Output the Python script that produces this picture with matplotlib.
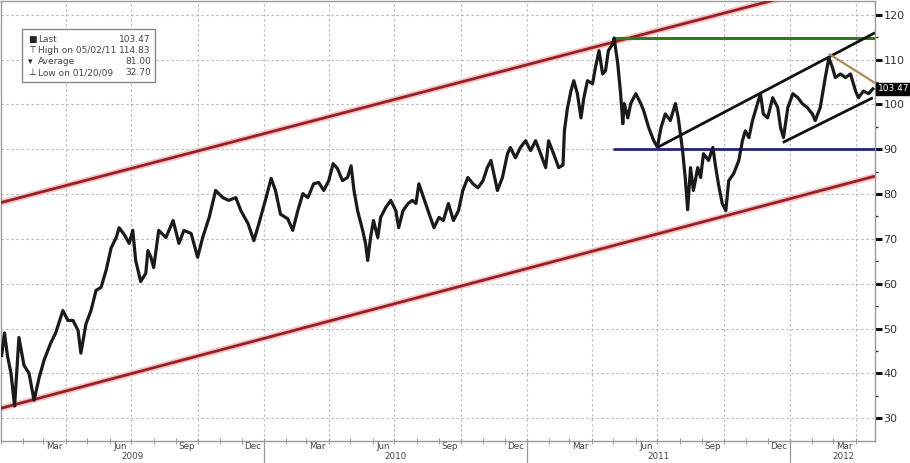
import matplotlib
matplotlib.use('Agg')
import matplotlib.pyplot as plt
import matplotlib.transforms as mtransforms
import pandas as pd

# price series (roughly weekly, with the swing highs/lows)
dates = [
    '2009-01-02', '2009-01-06', '2009-01-10', '2009-01-15', '2009-01-20', '2009-01-26',
    '2009-02-02', '2009-02-09', '2009-02-16', '2009-02-23', '2009-03-02', '2009-03-11',
    '2009-03-18', '2009-03-28', '2009-04-04', '2009-04-11', '2009-04-18', '2009-04-22',
    '2009-04-29', '2009-05-06', '2009-05-13', '2009-05-20', '2009-05-27', '2009-06-03',
    '2009-06-10', '2009-06-14', '2009-06-21', '2009-06-28', '2009-07-03', '2009-07-07',
    '2009-07-14', '2009-07-21', '2009-07-24', '2009-07-28', '2009-08-01', '2009-08-08',
    '2009-08-18', '2009-08-28', '2009-09-05', '2009-09-12', '2009-09-22', '2009-10-01',
    '2009-10-08', '2009-10-17', '2009-10-26', '2009-11-05', '2009-11-13', '2009-11-23',
    '2009-11-30', '2009-12-10', '2009-12-18', '2009-12-25',
    '2010-01-04', '2010-01-11', '2010-01-17', '2010-01-24', '2010-02-03', '2010-02-10',
    '2010-02-17', '2010-02-24', '2010-03-03', '2010-03-11', '2010-03-18', '2010-03-25',
    '2010-04-01', '2010-04-07', '2010-04-13', '2010-04-20', '2010-04-27', '2010-05-02',
    '2010-05-06', '2010-05-11', '2010-05-18', '2010-05-22', '2010-05-25', '2010-05-29',
    '2010-06-02', '2010-06-08', '2010-06-12', '2010-06-19', '2010-06-26', '2010-07-03',
    '2010-07-07', '2010-07-13', '2010-07-20', '2010-07-26', '2010-07-31', '2010-08-04',
    '2010-08-11', '2010-08-18', '2010-08-25', '2010-09-01', '2010-09-07', '2010-09-14',
    '2010-09-21', '2010-09-28', '2010-10-04', '2010-10-11', '2010-10-18', '2010-10-25',
    '2010-11-01', '2010-11-07', '2010-11-12', '2010-11-16', '2010-11-21', '2010-11-28',
    '2010-12-05', '2010-12-09', '2010-12-16', '2010-12-23', '2010-12-30',
    '2011-01-06', '2011-01-13', '2011-01-20', '2011-01-27', '2011-01-31', '2011-02-07',
    '2011-02-14', '2011-02-20', '2011-02-22', '2011-02-26', '2011-03-03', '2011-03-07',
    '2011-03-12', '2011-03-17', '2011-03-21', '2011-03-26', '2011-04-02', '2011-04-06',
    '2011-04-11', '2011-04-16', '2011-04-20', '2011-04-24', '2011-04-30', '2011-05-02',
    '2011-05-07', '2011-05-11', '2011-05-14', '2011-05-16', '2011-05-21', '2011-05-25',
    '2011-06-01', '2011-06-08', '2011-06-12', '2011-06-19', '2011-06-26', '2011-07-01',
    '2011-07-06', '2011-07-12', '2011-07-19', '2011-07-26', '2011-07-30', '2011-08-05',
    '2011-08-09', '2011-08-12', '2011-08-16', '2011-08-20', '2011-08-26', '2011-08-30',
    '2011-09-03', '2011-09-10', '2011-09-16', '2011-09-20', '2011-09-24', '2011-09-29',
    '2011-10-04', '2011-10-08', '2011-10-15', '2011-10-22', '2011-10-27', '2011-10-31',
    '2011-11-05', '2011-11-10', '2011-11-14', '2011-11-21', '2011-11-25', '2011-12-01',
    '2011-12-08', '2011-12-15', '2011-12-19', '2011-12-23', '2011-12-29',
    '2012-01-05', '2012-01-12', '2012-01-18', '2012-01-25', '2012-02-01', '2012-02-05',
    '2012-02-12', '2012-02-19', '2012-02-24', '2012-02-29', '2012-03-04', '2012-03-11',
    '2012-03-18', '2012-03-25', '2012-04-01', '2012-04-05', '2012-04-12', '2012-04-19',
    '2012-04-25',
]
prices = [
    44, 49, 44, 40, 32.7, 48,
    41.8, 40, 34, 39, 43, 46.7,
    49, 54, 51.8, 51.8, 49.6, 44.5,
    51, 54, 58.5, 59.2, 63, 68,
    70.3, 72.5, 71, 69, 71.9, 65.2,
    60.5, 62.3, 67.4, 66, 63.6, 71.9,
    70.3, 74.1, 69, 71.9, 71.2, 65.9,
    70.3, 74.8, 80.8, 79.2, 78.6, 79.2,
    76.3, 73.4, 69.6, 73.4,
    79.2, 83.5, 80.8, 75.5, 74.5, 71.9,
    76.3, 80.1, 79.2, 82.3, 82.6, 80.8,
    83, 86.8, 85.7, 83, 83.7, 86.3,
    80.8, 76.3, 71.9, 69, 65.2, 70.3,
    74.1, 70.3, 74.8, 77, 78.6, 76.3,
    72.5, 76.3, 77.9, 78.6, 77.9, 82.3,
    79, 75.7, 72.5, 74.8, 74.1, 77.9,
    74.1, 76.3, 80.8, 83.7, 82.3, 81.4,
    83, 85.9, 87.5, 84.6, 80.8, 83.7,
    89, 90.4, 88.1, 90.4, 91.9,
    89.7, 91.9, 89, 85.9, 91.9, 89,
    85.9, 86.5, 94.1, 99, 103, 105.3,
    102.4, 97, 101.5, 105.3, 104.6, 108.2,
    112, 106.8, 107.5, 112, 113.5, 114.83,
    109.1, 102.4, 95.7, 100.2, 97, 100.2,
    102.4, 100.2, 98.6, 94.8, 91.9, 90.5,
    94.8, 97.9, 96.4, 100.2, 97, 89.7,
    83, 76.5, 85.9, 80.8, 85.9, 83.7,
    89, 87.5, 90.4, 85.9, 82, 77.9,
    76.3, 83, 84.6, 87.5, 91.9, 94.1,
    92.6, 96.4, 98.6, 102.4, 97.9, 97,
    101.5, 99.3, 94.8, 92.6, 99.3,
    102.4, 101.5, 100.2, 99.3, 97.9, 96.4,
    99.3, 106, 110.4, 108.2, 106, 106.8,
    106, 106.8, 103, 101.5, 103, 102.4,
    103.47,
]

# hand-drawn trend lines (start/end date, start/end value)
channel_top = (['2009-01-01', '2012-04-28'], [78.1, 129.2])
channel_bottom = (['2009-01-01', '2012-04-28'], [32.2, 84.0])
high_line = (['2011-05-02', '2012-04-28'], [114.83, 114.83])
support_line = (['2011-04-30', '2012-04-28'], [90.0, 90.0])
rising_top = (['2011-07-01', '2012-04-28'], [90.4, 116.0])
rising_bottom = (['2011-12-22', '2012-04-25'], [91.5, 101.5])
falling_top = (['2012-02-24', '2012-04-28'], [111.3, 104.8])

legend_rows = [('\u25A0', 'Last', '103.47'),
               ('\u22A4', 'High on 05/02/11', '114.83'),
               ('\u25BE', 'Average', '81.00'),
               ('\u22A5', 'Low on 01/20/09', '32.70')]

x_start, x_end = pd.Timestamp('2009-01-01'), pd.Timestamp('2012-04-28')

fig = plt.figure(figsize=(9.1, 4.63), dpi=100)
ax = fig.add_axes([0.001, 1 - 441 / 463, 875 / 910 - 0.001, 441 / 463 - 0.002])

grid_kw = dict(color='#b5b5b5', lw=0.8, linestyle=(0, (2, 2.5)), zorder=0)
for v in range(30, 121, 10):
    ax.axhline(v, **grid_kw)
for d in pd.date_range('2009-04-01', x_end, freq='QS'):
    ax.axvline(d, **grid_kw)

# trend lines
def trend(line, color, lw, halo=None):
    xs = pd.to_datetime(line[0])
    if halo:
        ax.plot(xs, line[1], color=halo, lw=lw + 2.5, solid_capstyle='butt', zorder=2)
    ax.plot(xs, line[1], color=color, lw=lw, solid_capstyle='butt', zorder=3)

trend(channel_top, '#9a1e22', 2.0, halo='#f3c4c4')
trend(channel_bottom, '#9a1e22', 2.0, halo='#f3c4c4')
trend(high_line, '#2f7a22', 2.2)
trend(support_line, '#23237f', 2.0)
trend(rising_top, '#111111', 2.0)
trend(rising_bottom, '#111111', 2.0)
trend(falling_top, '#b08a55', 1.6)

ax.plot(pd.to_datetime(dates), prices, color='#1a1a1a', lw=2.3, zorder=4)

ax.set_xlim(x_start, x_end)
ax.set_ylim(24.9, 123.1)

# y axis on the right, Bloomberg style
ax.yaxis.tick_right()
ax.set_yticks(range(30, 121, 10))
ax.set_yticks(range(35, 121, 10), minor=True)
ax.tick_params(axis='y', which='major', length=5, width=2.2, color='#111',
               labelsize=8, labelcolor='#333', pad=1)
ax.tick_params(axis='y', which='minor', length=2.5, width=1, color='#333')

# x axis: month names centred in the month, ticks at month starts
label_days = [pd.Timestamp(y, m, 16) for y in range(2009, 2013) for m in (3, 6, 9, 12)]
label_days = [d for d in label_days if d < x_end]
ax.set_xticks(label_days)
ax.set_xticklabels([d.strftime('%b') for d in label_days])
ax.set_xticks(pd.date_range(x_start, x_end, freq='MS'), minor=True)
ax.tick_params(axis='x', which='major', length=0, labelsize=6.3, labelcolor='#444', pad=1)
ax.tick_params(axis='x', which='minor', length=4, direction='inout', color='#888')

for side in ['left', 'top', 'right', 'bottom']:
    ax.spines[side].set_color('#999999')
    ax.spines[side].set_linewidth(1.0)

# year labels and separators under the axis
trans = mtransforms.blended_transform_factory(ax.transData, ax.transAxes)
for yr in ['2010-01-01', '2011-01-01', '2012-01-01']:
    ax.plot([pd.Timestamp(yr)] * 2, [0, -0.06], color='#999', lw=0.9,
            transform=trans, clip_on=False)
year_pos = ['2009-07-02', '2010-07-02', '2011-07-02', '2012-03-15']
for yr, pos in zip(['2009', '2010', '2011', '2012'], year_pos):
    ax.text(pd.Timestamp(pos), -0.0465, yr, transform=trans, ha='center',
            va='bottom', fontsize=6.3, color='#444')

# last price tag
ax.annotate('103.47', xy=(1, 103.47), xycoords=('axes fraction', 'data'),
            xytext=(2, 0), textcoords='offset points', ha='left', va='center',
            fontsize=6.5, color='white', annotation_clip=False,
            bbox=dict(boxstyle='square,pad=0.15', fc='black', ec='black'))

# legend box in the upper left
ax.add_patch(plt.Rectangle((21 / 875, 1 - 81 / 441), 133 / 875, 53 / 441,
                           transform=ax.transAxes, fc='white', ec='#888',
                           lw=1, zorder=5))
for i, (sym, name, val) in enumerate(legend_rows):
    yy = 1 - (39 + i * 11) / 441
    ax.text(27 / 875, yy, sym, transform=ax.transAxes, fontsize=6.5,
            va='center', ha='left', color='#222', zorder=6)
    ax.text(37 / 875, yy, name, transform=ax.transAxes, fontsize=6.5,
            va='center', ha='left', color='#444', zorder=6)
    ax.text(150 / 875, yy, val, transform=ax.transAxes, fontsize=6.5,
            va='center', ha='right', color='#444', zorder=6)

fig.savefig('out.png', dpi=100)
